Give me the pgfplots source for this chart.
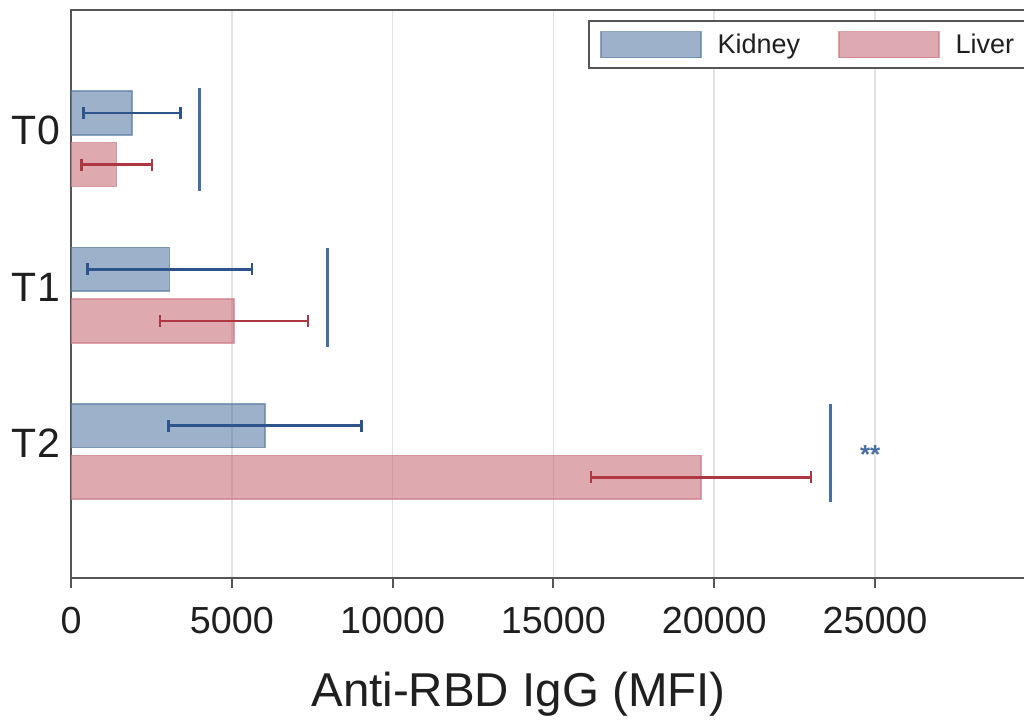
\documentclass[border=0pt]{standalone}
\usepackage{pgfplots}
\pgfplotsset{compat=1.18}
\usepackage{pgfplotstable}
\usepackage{fontspec}
\setmainfont{Liberation Sans}

\definecolor{kidfill}{RGB}{60,100,150}
\definecolor{kidedge}{RGB}{95,128,165}
\definecolor{kiderr}{RGB}{45,85,140}
\definecolor{livfill}{RGB}{195,100,112}
\definecolor{livedge}{RGB}{205,125,137}
\definecolor{liverr}{RGB}{175,55,65}
\definecolor{sigblue}{RGB}{70,110,160}
\definecolor{axgray}{RGB}{85,85,85}
\definecolor{gridgray}{RGB}{226,226,226}

% mean and error (MFI) per time point; idx 0,1,2 = T0,T1,T2
\pgfplotstableread{
idx mean err
0 1900 1510
1 3070 2560
2 6030 3000
}\kidney
\pgfplotstableread{
idx mean err
0 1420 1100
1 5070 2300
2 19590 3420
}\liver

\pgfplotsset{
  hbar/.style={xbar, bar width=0.28, bar shift=0,
    legend image code/.code={\draw[##1] (0bp,-13bp) rectangle (100bp,13bp);}},
}

\begin{document}
\begin{tikzpicture}
\useasboundingbox (0,0) rectangle (1024bp,725bp);
\clip (0,0) rectangle (1024bp,725bp);
\begin{axis}[
  at={(71bp,147bp)}, anchor=south west,
  scale only axis, width=980.9bp, height=568bp,
  xmin=0, xmax=30500, ymin=-0.823, ymax=2.809, y dir=reverse,
  xtick={0,5000,...,25000}, ytick={0,1,2}, yticklabels={T0,T1,T2},
  scaled x ticks=false,
  /pgf/number format/1000 sep={},
  /pgf/number format/assume math mode=true,
  xmajorgrids, major grid style={gridgray, line width=1.5bp},
  axis line style={axgray, line width=2.5bp},
  xtick pos=bottom, xtick align=outside, major tick length=10bp,
  x tick style={axgray, line width=2bp},
  y tick style={draw=none},
  xticklabel style={font=\fontsize{37.7bp}{40bp}\selectfont, text=black!88, anchor=base, yshift=-45bp},
  yticklabel style={font=\fontsize{41bp}{44bp}\selectfont, text=black!88, inner sep=0pt, xshift=-11bp, yshift=8bp},
  xlabel={Anti-RBD IgG (MFI)},
  xlabel style={at={(axis description cs:0.4562,-0.2266)}, anchor=base,
    font=\fontsize{47.5bp}{50bp}\selectfont, text=black!88},
  legend columns=2,
  legend style={at={(0.5271,0.9824)}, anchor=north west, draw=axgray, line width=2bp,
    inner xsep=11bp, inner ysep=10bp, nodes={inner sep=0pt},
    font=\fontsize{27bp}{30bp}\selectfont, text=black!88,
    /tikz/every odd column/.append style={column sep=16bp},
    /tikz/every even column/.append style={column sep=38bp}},
]
\addplot[hbar, fill=kidfill, fill opacity=0.5, draw=kidedge, draw opacity=0.7, line width=1.5bp,
  error bars/.cd, x dir=both, x explicit, error mark=|,
  error bar style={kiderr, line width=2.7bp, draw opacity=1},
  error mark options={kiderr, line width=2.7bp, mark size=6bp, draw opacity=1}]
  table[x=mean, y expr=\thisrow{idx}-0.165, x error=err] {\kidney};
\addlegendentry{Kidney}
\addplot[hbar, fill=livfill, fill opacity=0.55, draw=livedge, draw opacity=0.7, line width=1.5bp,
  error bars/.cd, x dir=both, x explicit, error mark=|,
  error bar style={liverr, line width=2.7bp, draw opacity=1},
  error mark options={liverr, line width=2.7bp, mark size=6bp, draw opacity=1}]
  table[x=mean, y expr=\thisrow{idx}+0.165, x error=err] {\liver};
\addlegendentry{Liver}
% comparison brackets
\addplot[forget plot, sigblue, line width=3bp] coordinates {(4010,-0.324) (4010,0.334)};
\addplot[forget plot, sigblue, line width=3bp] coordinates {(7980,0.696) (7980,1.332)};
\addplot[forget plot, sigblue, line width=2.5bp] coordinates {(23620,1.694) (23620,2.322)};
\node[text=sigblue, font=\bfseries\fontsize{26bp}{28bp}\selectfont, anchor=base] at (axis cs:24850,2.074) {**};
\end{axis}
\end{tikzpicture}
\end{document}
